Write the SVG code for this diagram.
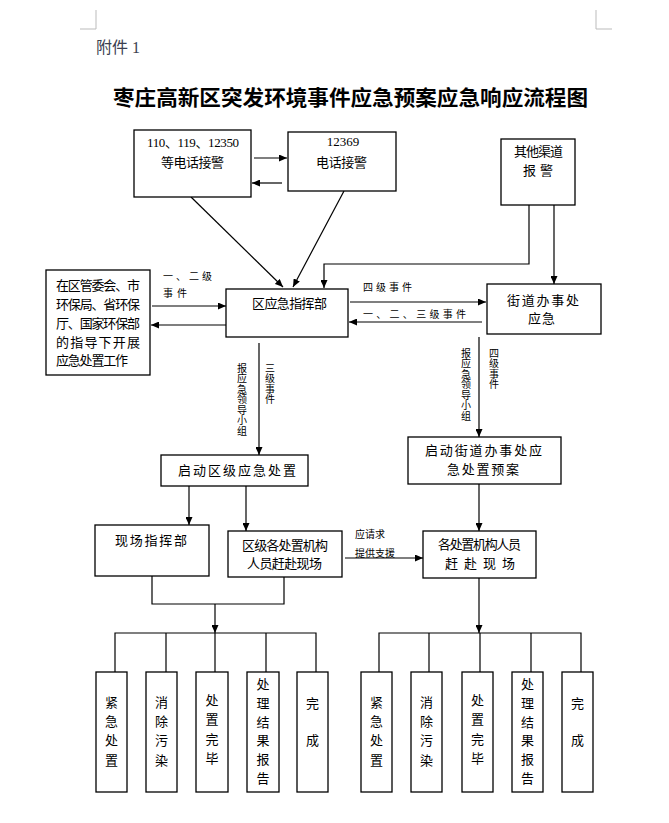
<svg xmlns="http://www.w3.org/2000/svg" width="669" height="823" viewBox="0 0 669 823">
<defs>
<marker id="ah" markerUnits="userSpaceOnUse" markerWidth="8" markerHeight="7" refX="8" refY="3.5" orient="auto">
<path d="M0,0 L8,3.5 L0,7 z" fill="#000"/>
</marker>
<style>
.box{fill:#fff;stroke:#000;stroke-width:1.3}
.ln{fill:none;stroke:#000;stroke-width:1.2}
.ar{fill:none;stroke:#000;stroke-width:1.2;marker-end:url(#ah)}
.t{font-family:"Noto Sans CJK SC","Noto Sans",sans-serif;font-size:13px;fill:#000}
.n{font-family:"Liberation Serif","Noto Sans CJK SC",serif;font-size:13px;fill:#000}
.s{font-family:"Noto Sans CJK SC","Noto Sans",sans-serif;font-size:10px;fill:#000}
.v{font-family:"Noto Sans CJK SC","Noto Sans",sans-serif;font-size:10px;fill:#000;writing-mode:vertical-rl;letter-spacing:0.5px}
.c{text-anchor:middle}
</style>
</defs>
<rect width="669" height="823" fill="#fff"/>
<g id="corners" stroke="#bbb" stroke-width="1" fill="none">
<path d="M96,10 V29 H80"/>
<path d="M596,10 V29 H612"/>
</g>
<text x="96" y="53" font-family="Liberation Serif,Noto Sans CJK SC,serif" font-size="16" fill="#3a4050">附件 1</text>
<text x="113" y="105" font-family="Noto Sans CJK SC,sans-serif" font-size="21" font-weight="bold" textLength="475" lengthAdjust="spacingAndGlyphs">枣庄高新区突发环境事件应急预案应急响应流程图</text>

<g id="connectors">
<path class="ar" d="M254,158 H287"/>
<path class="ar" d="M282,183 H252"/>
<path class="ar" d="M191,197 L283,287"/>
<path class="ar" d="M344,191 L293,287"/>
<path class="ar" d="M529,205 V264 H324 V288"/>
<path class="ar" d="M554,205 V284"/>
<path class="ar" d="M152,306 H226"/>
<path class="ar" d="M226,325 H151"/>
<path class="ar" d="M350,302 H486"/>
<path class="ar" d="M482,322 H349"/>
<path class="ar" d="M259,343 V455"/>
<path class="ar" d="M479,337 V437"/>
<path class="ar" d="M189,486 V525"/>
<path class="ar" d="M246,486 V531"/>
<path class="ar" d="M345,558 H423"/>
<path class="ar" d="M479,484 V531"/>
<path class="ln" d="M152,576 V604 H284 V577"/>
<path class="ar" d="M215,604 V633"/>
<path class="ar" d="M479,578 V633"/>
<path class="ln" d="M115,672 V633 H316 V672 M166,633 V672 M215,633 V672 M266,633 V672"/>
<path class="ln" d="M379,672 V633 H581 V672 M429,633 V672 M480,633 V672 M531,633 V672"/>
<text class="s" x="163" y="280" textLength="49" lengthAdjust="spacing">一、二级</text>
<text class="s" x="163" y="297" textLength="24" lengthAdjust="spacing">事件</text>
<text class="s" x="363" y="291" textLength="49" lengthAdjust="spacing">四级事件</text>
<text class="s" x="363" y="318" textLength="103" lengthAdjust="spacing">一、二、三级事件</text>
<text class="v" x="242" y="363">报应急领导小组</text>
<text class="v" x="270" y="363">三级事件</text>
<text class="v" x="466" y="348">报应急领导小组</text>
<text class="v" x="494" y="348">四级事件</text>
<text class="s" x="355" y="538" textLength="30" lengthAdjust="spacing">应请求</text>
<text class="s" x="355" y="557" textLength="40" lengthAdjust="spacing">提供支援</text>
</g>

<g id="n110">
<rect class="box" x="134" y="130" width="117" height="67"/>
<text class="n" x="147" y="147" textLength="92" lengthAdjust="spacing">110、119、12350</text>
<text class="t" x="161" y="167" textLength="63" lengthAdjust="spacing">等电话接警</text>
</g>
<g id="n12369">
<rect class="box" x="288" y="132" width="108" height="59"/>
<text class="n c" x="343" y="146">12369</text>
<text class="t" x="316" y="167" textLength="51" lengthAdjust="spacing">电话接警</text>
</g>
<g id="nother">
<rect class="box" x="501" y="139" width="74" height="66"/>
<text class="t" x="514" y="156" textLength="49" lengthAdjust="spacing">其他渠道</text>
<text class="t" x="523" y="175" textLength="30" lengthAdjust="spacing">报警</text>
</g>
<g id="nguide">
<rect class="box" x="46" y="270" width="104" height="105"/>
<text class="t" x="56" y="290" textLength="84" lengthAdjust="spacing">在区管委会、市</text>
<text class="t" x="56" y="309" textLength="84" lengthAdjust="spacing">环保局、省环保</text>
<text class="t" x="56" y="328" textLength="84" lengthAdjust="spacing">厅、国家环保部</text>
<text class="t" x="56" y="347" textLength="84" lengthAdjust="spacing">的指导下开展</text>
<text class="t" x="56" y="365" textLength="72" lengthAdjust="spacing">应急处置工作</text>
</g>
<g id="ncmd">
<rect class="box" x="226" y="289" width="122" height="48"/>
<text class="t" x="252" y="308" textLength="75" lengthAdjust="spacing">区应急指挥部</text>
</g>
<g id="nstreet">
<rect class="box" x="487" y="284" width="114" height="50"/>
<text class="t" x="507" y="305" textLength="72" lengthAdjust="spacing">街道办事处</text>
<text class="t" x="528" y="323" textLength="27" lengthAdjust="spacing">应急</text>
</g>
<g id="nstartdist">
<rect class="box" x="161" y="455" width="147" height="31"/>
<text class="t" x="178" y="475" textLength="118" lengthAdjust="spacing">启动区级应急处置</text>
</g>
<g id="nstartstreet">
<rect class="box" x="408" y="437" width="153" height="47"/>
<text class="t" x="425" y="455" textLength="117" lengthAdjust="spacing">启动街道办事处应</text>
<text class="t" x="447" y="474" textLength="72" lengthAdjust="spacing">急处置预案</text>
</g>
<g id="nsite">
<rect class="box" x="95" y="525" width="114" height="51"/>
<text class="t" x="115" y="545" textLength="72" lengthAdjust="spacing">现场指挥部</text>
</g>
<g id="ndistpeople">
<rect class="box" x="228" y="531" width="114" height="46"/>
<text class="t" x="242" y="550" textLength="86" lengthAdjust="spacing">区级各处置机构</text>
<text class="t" x="247" y="568" textLength="75" lengthAdjust="spacing">人员赶赴现场</text>
</g>
<g id="nstreetpeople">
<rect class="box" x="423" y="531" width="113" height="47"/>
<text class="t" x="438" y="549" textLength="83" lengthAdjust="spacing">各处置机构人员</text>
<text class="t" x="445" y="568" textLength="70" lengthAdjust="spacing">赶赴现场</text>
</g>

<g id="l1"><rect class="box" x="96" y="672" width="31" height="120"/>
<g class="t c"><text x="111.5" y="707">紧</text><text x="111.5" y="726">急</text><text x="111.5" y="745">处</text><text x="111.5" y="765">置</text></g></g>
<g id="l2"><rect class="box" x="146" y="672" width="31" height="120"/>
<g class="t c"><text x="161.5" y="707">消</text><text x="161.5" y="726">除</text><text x="161.5" y="745">污</text><text x="161.5" y="765">染</text></g></g>
<g id="l3"><rect class="box" x="196" y="672" width="32" height="120"/>
<g class="t c"><text x="212" y="705">处</text><text x="212" y="724">置</text><text x="212" y="744">完</text><text x="212" y="763">毕</text></g></g>
<g id="l4"><rect class="box" x="247" y="672" width="32" height="120"/>
<g class="t c"><text x="263" y="689">处</text><text x="263" y="708">理</text><text x="263" y="727">结</text><text x="263" y="745">果</text><text x="263" y="764">报</text><text x="263" y="783">告</text></g></g>
<g id="l5"><rect class="box" x="297" y="672" width="31" height="120"/>
<g class="t c"><text x="312.5" y="708">完</text><text x="312.5" y="745">成</text></g></g>

<g id="r1"><rect class="box" x="361" y="672" width="31" height="120"/>
<g class="t c"><text x="376.5" y="707">紧</text><text x="376.5" y="726">急</text><text x="376.5" y="745">处</text><text x="376.5" y="765">置</text></g></g>
<g id="r2"><rect class="box" x="411" y="672" width="31" height="120"/>
<g class="t c"><text x="426.5" y="707">消</text><text x="426.5" y="726">除</text><text x="426.5" y="745">污</text><text x="426.5" y="765">染</text></g></g>
<g id="r3"><rect class="box" x="462" y="672" width="31" height="120"/>
<g class="t c"><text x="477.5" y="705">处</text><text x="477.5" y="724">置</text><text x="477.5" y="744">完</text><text x="477.5" y="763">毕</text></g></g>
<g id="r4"><rect class="box" x="512" y="672" width="31" height="120"/>
<g class="t c"><text x="527.5" y="689">处</text><text x="527.5" y="708">理</text><text x="527.5" y="727">结</text><text x="527.5" y="745">果</text><text x="527.5" y="764">报</text><text x="527.5" y="783">告</text></g></g>
<g id="r5"><rect class="box" x="562" y="672" width="31" height="120"/>
<g class="t c"><text x="577.5" y="708">完</text><text x="577.5" y="745">成</text></g></g>
</svg>
